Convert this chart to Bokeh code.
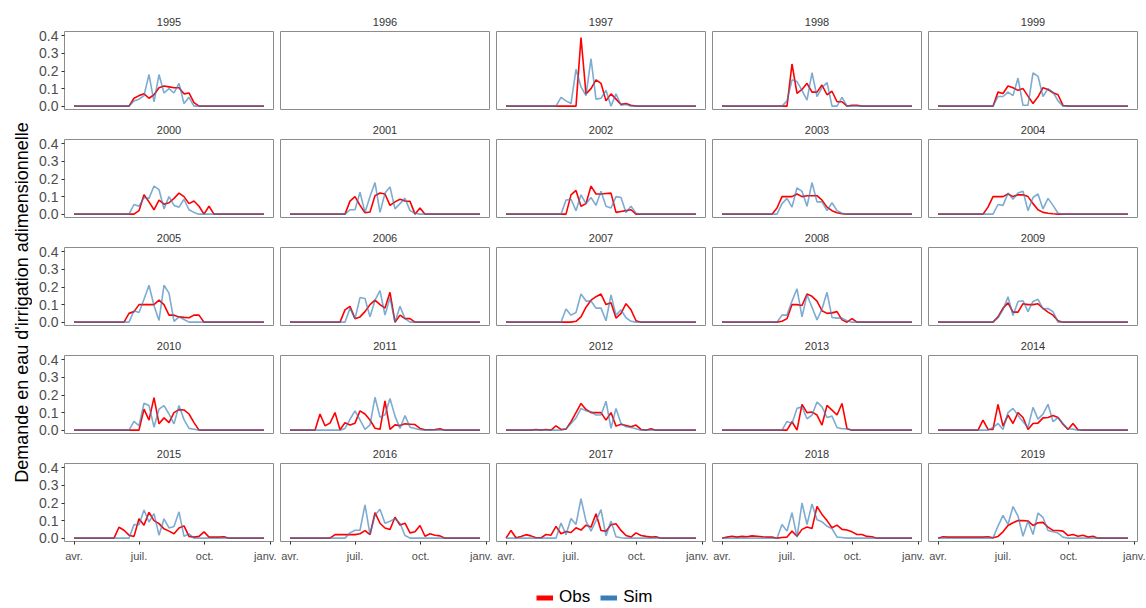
import math
from bokeh.plotting import figure
from bokeh.layouts import gridplot, row, column
from bokeh.models import Range1d, FixedTicker, PrintfTickFormatter, Legend, LegendItem, Label
from bokeh.embed import file_html
from bokeh.resources import INLINE

# ---------------- data ----------------
YEARS = list(range(1995, 2020))
N_WEEKS = 39                      # weekly steps from 1 April
MONTH_TICKS = [0, 91, 183, 275]   # days since 1 April
MONTH_LABELS = ["avr.", "juil.", "oct.", "janv."]
Y_TICKS = [0.0, 0.1, 0.2, 0.3, 0.4]

# (first non-zero week index, weekly values); all other weeks are 0
obs_1995 = (12, [0.045, 0.06, 0.07, 0.045, 0.065, 0.105, 0.115, 0.11, 0.105, 0.105, 0.07, 0.075, 0.02])
sim_1995 = (12, [0.03, 0.04, 0.06, 0.18, 0.025, 0.18, 0.075, 0.1, 0.075, 0.13, 0.015, 0.05])
obs_1997 = (15, [0.39, 0.07, 0.1, 0.15, 0.13, 0.03, 0.07, 0.04, 0.01, 0.015, 0.005])
sim_1997 = (11, [0.05, 0.03, 0.015, 0.21, 0.11, 0.06, 0.27, 0.04, 0.045, 0.09, 0.0, 0.07, 0.005, 0.01])
obs_1998 = (14, [0.24, 0.073, 0.095, 0.13, 0.08, 0.08, 0.12, 0.065, 0.085, 0.025, 0.025, 0.0, 0.005, 0.005])
sim_1998 = (13, [0.03, 0.15, 0.14, 0.09, 0.035, 0.19, 0.055, 0.105, 0.135, 0.0, 0.0, 0.05, 0.0])
obs_1999 = (12, [0.08, 0.072, 0.115, 0.105, 0.09, 0.1, 0.057, 0.015, 0.053, 0.105, 0.095, 0.076, 0.065, 0.004])
sim_1999 = (12, [0.055, 0.055, 0.08, 0.06, 0.16, 0.005, 0.005, 0.19, 0.17, 0.055, 0.1, 0.08, 0.03])
obs_2000 = (13, [0.02, 0.11, 0.07, 0.025, 0.08, 0.057, 0.065, 0.09, 0.12, 0.1, 0.06, 0.075, 0.045, 0.0, 0.045])
sim_2000 = (12, [0.055, 0.045, 0.094, 0.09, 0.16, 0.14, 0.03, 0.1, 0.05, 0.04, 0.085, 0.025, 0.01])
obs_2001 = (12, [0.074, 0.1, 0.05, 0.008, 0.012, 0.105, 0.12, 0.115, 0.05, 0.07, 0.085, 0.075, 0.073, 0.0, 0.035])
sim_2001 = (12, [0.025, 0.025, 0.125, 0.01, 0.1, 0.18, 0.01, 0.12, 0.155, 0.03, 0.06, 0.09, 0.02, 0.005])
obs_2002 = (13, [0.11, 0.135, 0.045, 0.06, 0.16, 0.115, 0.115, 0.118, 0.12, 0.01, 0.015, 0.02, 0.025])
sim_2002 = (12, [0.08, 0.085, 0.02, 0.11, 0.06, 0.095, 0.05, 0.13, 0.045, 0.035, 0.1, 0.095, 0.01, 0.045, 0.005])
obs_2003 = (11, [0.035, 0.1, 0.1, 0.1, 0.115, 0.1, 0.105, 0.105, 0.105, 0.08, 0.04, 0.02, 0.008, 0.002])
sim_2003 = (12, [0.06, 0.09, 0.04, 0.15, 0.13, 0.045, 0.18, 0.07, 0.07, 0.02, 0.065, 0.02, 0.005])
obs_2004 = (10, [0.04, 0.1, 0.1, 0.1, 0.115, 0.1, 0.11, 0.11, 0.1, 0.06, 0.025, 0.01, 0.005, 0.002])
sim_2004 = (12, [0.055, 0.05, 0.12, 0.085, 0.12, 0.13, 0.02, 0.095, 0.115, 0.03, 0.09, 0.05, 0.005])
obs_2005 = (11, [0.05, 0.06, 0.1, 0.1, 0.1, 0.1, 0.125, 0.1, 0.04, 0.04, 0.03, 0.027, 0.025, 0.04, 0.04])
sim_2005 = (12, [0.065, 0.055, 0.13, 0.21, 0.095, 0.01, 0.21, 0.165, 0.005, 0.03, 0.015])
obs_2006 = (11, [0.07, 0.09, 0.02, 0.03, 0.06, 0.1, 0.125, 0.1, 0.08, 0.17, 0.0, 0.04, 0.02, 0.02])
sim_2006 = (12, [0.08, 0.02, 0.14, 0.135, 0.03, 0.125, 0.18, 0.04, 0.14, 0.0, 0.09, 0.02])
obs_2007 = (14, [0.005, 0.03, 0.085, 0.125, 0.145, 0.16, 0.1, 0.11, 0.023, 0.05, 0.105, 0.07, 0.008])
sim_2007 = (12, [0.075, 0.04, 0.055, 0.16, 0.12, 0.12, 0.08, 0.08, 0.008, 0.155, 0.04, 0.07, 0.025, 0.005])
obs_2008 = (12, [0.005, 0.02, 0.1, 0.1, 0.095, 0.16, 0.147, 0.12, 0.065, 0.05, 0.053, 0.06, 0.013, 0.0, 0.02])
sim_2008 = (12, [0.04, 0.04, 0.12, 0.19, 0.03, 0.155, 0.085, 0.013, 0.075, 0.17, 0.027, 0.023, 0.023, 0.008])
obs_2009 = (12, [0.03, 0.08, 0.11, 0.057, 0.057, 0.105, 0.1, 0.1, 0.105, 0.078, 0.057, 0.04, 0.008])
sim_2009 = (12, [0.025, 0.07, 0.145, 0.038, 0.118, 0.122, 0.06, 0.118, 0.13, 0.076, 0.078, 0.06])
obs_2010 = (14, [0.12, 0.057, 0.185, 0.036, 0.07, 0.043, 0.1, 0.117, 0.115, 0.092, 0.043])
sim_2010 = (12, [0.05, 0.025, 0.153, 0.14, 0.017, 0.12, 0.14, 0.092, 0.036, 0.14, 0.06, 0.01, 0.005])
obs_2011 = (6, [0.092, 0.025, 0.04, 0.1, 0.002, 0.042, 0.03, 0.04, 0.11, 0.092, 0.058, 0.011, 0.005,
                0.166, 0.005, 0.03, 0.026, 0.036, 0.034, 0.032, 0.01, 0.002, 0.002, 0.004, 0.008])
sim_2011 = (11, [0.01, 0.062, 0.11, 0.058, 0.005, 0.03, 0.187, 0.074, 0.087, 0.18, 0.08, 0.01, 0.083, 0.017, 0.01, 0.002])
obs_2012 = (6, [0.004, 0.0, 0.004, 0.0, 0.025, 0.004, 0.006, 0.048, 0.1, 0.152, 0.118, 0.1, 0.1, 0.1,
                0.057, 0.1, 0.023, 0.034, 0.027, 0.019, 0.029, 0.004, 0.0, 0.008])
sim_2012 = (12, [0.008, 0.038, 0.07, 0.124, 0.11, 0.105, 0.086, 0.086, 0.165, 0.01, 0.124, 0.038, 0.019, 0.015, 0.008])
obs_2013 = (14, [0.048, 0.0, 0.147, 0.1, 0.103, 0.086, 0.029, 0.141, 0.114, 0.086, 0.152, 0.008])
sim_2013 = (13, [0.05, 0.038, 0.124, 0.133, 0.065, 0.086, 0.16, 0.133, 0.072, 0.08, 0.015, 0.008, 0.008])
obs_2014 = (9, [0.057, 0.004, 0.004, 0.147, 0.023, 0.086, 0.038, 0.1, 0.072, 0.004, 0.038, 0.04, 0.07,
                0.072, 0.084, 0.072, 0.034, 0.004, 0.038, 0.002])
sim_2014 = (11, [0.015, 0.038, 0.004, 0.1, 0.124, 0.084, 0.048, 0.015, 0.13, 0.063, 0.091, 0.147, 0.048,
                 0.072, 0.038, 0.008, 0.006])
obs_2015 = (9, [0.062, 0.045, 0.017, 0.01, 0.11, 0.074, 0.147, 0.1, 0.083, 0.053, 0.04, 0.025, 0.058,
                0.07, 0.01, 0.006, 0.01, 0.036, 0.006, 0.006, 0.006, 0.008])
sim_2015 = (12, [0.077, 0.077, 0.16, 0.092, 0.14, 0.017, 0.11, 0.058, 0.066, 0.15, 0.01, 0.025])
obs_2016 = (9, [0.02, 0.02, 0.02, 0.02, 0.02, 0.025, 0.043, 0.02, 0.145, 0.085, 0.058, 0.049, 0.119,
                0.075, 0.085, 0.03, 0.036, 0.072, 0.011, 0.025, 0.017, 0.013])
sim_2016 = (12, [0.03, 0.045, 0.045, 0.19, 0.02, 0.13, 0.165, 0.085, 0.096, 0.11, 0.085, 0.015])
obs_2017 = (1, [0.044, 0.002, 0.01, 0.02, 0.013, 0.002, 0.002, 0.021, 0.017, 0.067, 0.025, 0.038, 0.032,
                0.059, 0.046, 0.074, 0.063, 0.139, 0.044, 0.04, 0.076, 0.082, 0.044, 0.015, 0.006, 0.03,
                0.015, 0.01, 0.006, 0.008])
sim_2017 = (11, [0.086, 0.02, 0.112, 0.078, 0.225, 0.097, 0.04, 0.1, 0.162, 0.013, 0.097, 0.008, 0.002])
obs_2018 = (1, [0.006, 0.011, 0.006, 0.01, 0.008, 0.013, 0.011, 0.008, 0.006, 0.006, 0.0, 0.004, 0.006,
                0.04, 0.011, 0.05, 0.063, 0.055, 0.18, 0.135, 0.1, 0.059, 0.074, 0.05, 0.046, 0.036,
                0.021, 0.021, 0.01, 0.008])
sim_2018 = (12, [0.078, 0.04, 0.145, 0.006, 0.2, 0.078, 0.195, 0.105, 0.093, 0.068, 0.055, 0.006, 0.004])
obs_2019 = (1, [0.008, 0.006, 0.006, 0.006, 0.006, 0.006, 0.006, 0.006, 0.006, 0.008, 0.002, 0.01, 0.036,
                0.072, 0.088, 0.1, 0.1, 0.098, 0.072, 0.088, 0.09, 0.063, 0.044, 0.044, 0.04, 0.015,
                0.021, 0.011, 0.017, 0.006, 0.011])
sim_2019 = (12, [0.069, 0.13, 0.078, 0.18, 0.126, 0.011, 0.098, 0.021, 0.143, 0.118, 0.044, 0.036, 0.029, 0.006])

OBS_BY_YEAR = {y: globals().get("obs_%d" % y) for y in YEARS}   # 1996: no data
SIM_BY_YEAR = {y: globals().get("sim_%d" % y) for y in YEARS}

# ---------------- styling ----------------
FONT = "Liberation Sans"
RED = "#FF0000"
BLUE = "#377EB8"
DAYS = [7 * i for i in range(N_WEEKS)]


def weekly(series):
    start, vals = series
    out = [0.0] * N_WEEKS
    for i, v in enumerate(vals):
        out[start + i] = v
    return out


def make_panel(year, r, c):
    w = 244 if c == 0 else (221 if c == 4 else 216)
    h = 116 if r == 0 else (127 if r == 4 else 108)
    p = figure(width=w, height=h,
               x_range=Range1d(-13.3, 279.3), y_range=Range1d(-0.019, 0.425),
               toolbar_location=None, output_backend="svg", title=str(year),
               min_border_left=32 if c == 0 else 4,
               min_border_right=8 if c == 4 else 3,
               min_border_top=31 if r == 0 else 23,
               min_border_bottom=26 if r == 4 else 7,
               x_axis_location="below" if r == 4 else None,
               y_axis_location="left" if c == 0 else None)
    p.title.align = "center"
    p.title.text_font = FONT
    p.title.text_font_size = "11px"
    p.title.text_font_style = "normal"
    p.title.text_color = "#333333"
    p.title.standoff = 11
    p.xgrid.visible = False
    p.ygrid.visible = False
    p.outline_line_color = "#8C8C8C"
    p.outline_line_width = 1
    p.outline_line_alpha = 1.0
    p.background_fill_color = "white"
    p.border_fill_color = "white"
    for ax in p.xaxis:
        ax.ticker = FixedTicker(ticks=MONTH_TICKS)
        ax.major_label_overrides = {t: l for t, l in zip(MONTH_TICKS, MONTH_LABELS)}
        ax.axis_line_color = None
        ax.major_tick_line_color = "#333333"
        ax.major_tick_out = 3
        ax.major_tick_in = 0
        ax.minor_tick_line_color = None
        ax.major_label_text_font = FONT
        ax.major_label_text_font_size = "11px"
        ax.major_label_text_color = "#4D4D4D"
        ax.major_label_standoff = 5
    for ax in p.yaxis:
        ax.ticker = FixedTicker(ticks=Y_TICKS)
        ax.formatter = PrintfTickFormatter(format="%.1f")
        ax.axis_line_color = None
        ax.major_tick_line_color = "#333333"
        ax.major_tick_out = 3
        ax.major_tick_in = 0
        ax.minor_tick_line_color = None
        ax.major_label_text_font = FONT
        ax.major_label_text_font_size = "14px"
        ax.major_label_text_color = "#4D4D4D"
        ax.major_label_standoff = 3
    obs = OBS_BY_YEAR[year]
    sim = SIM_BY_YEAR[year]
    if obs is not None:
        p.line(DAYS, weekly(obs), color=RED, line_width=1.6)
    if sim is not None:
        p.line(DAYS, weekly(sim), color=BLUE, line_alpha=0.65, line_width=1.6)
    return p


rows = []
for r in range(5):
    rows.append([make_panel(YEARS[r * 5 + c], r, c) for c in range(5)])
grid = gridplot(rows, toolbar_location=None)

# y-axis title
GRID_H = 116 + 3 * 108 + 127
yf = figure(width=32, height=GRID_H, x_range=Range1d(0, 32), y_range=Range1d(0, GRID_H),
            toolbar_location=None, output_backend="svg", min_border=0,
            x_axis_location=None, y_axis_location=None)
yf.outline_line_color = None
yf.xgrid.visible = False
yf.ygrid.visible = False
yf.add_layout(Label(x=21, y=265, text="Demande en eau d'irrigation adimensionnelle",
                    angle=math.pi / 2, text_align="center", text_baseline="middle",
                    text_font=FONT, text_font_size="18px", text_color="black"))

# legend
LEG_H = 607 - GRID_H
lf = figure(width=1145, height=LEG_H, x_range=Range1d(0, 1145), y_range=Range1d(0, LEG_H),
            toolbar_location=None, output_backend="svg", min_border=0,
            x_axis_location=None, y_axis_location=None)
lf.outline_line_color = None
lf.xgrid.visible = False
lf.ygrid.visible = False
r_obs = lf.line([-50, -40], [-50, -50], color=RED, line_width=5)
r_sim = lf.line([-50, -40], [-50, -50], color=BLUE, line_width=5)
legend = Legend(items=[LegendItem(label="Obs", renderers=[r_obs]),
                       LegendItem(label="Sim", renderers=[r_sim])],
                orientation="horizontal", location=(536, 0),
                border_line_color=None, background_fill_alpha=0,
                label_text_font=FONT, label_text_font_size="17px", label_text_color="black",
                glyph_width=17, glyph_height=17, padding=0, margin=0,
                spacing=10, label_standoff=6)
lf.add_layout(legend)

layout = column(row(yf, grid), lf)
open("out.html", "w").write(file_html(layout, INLINE))
